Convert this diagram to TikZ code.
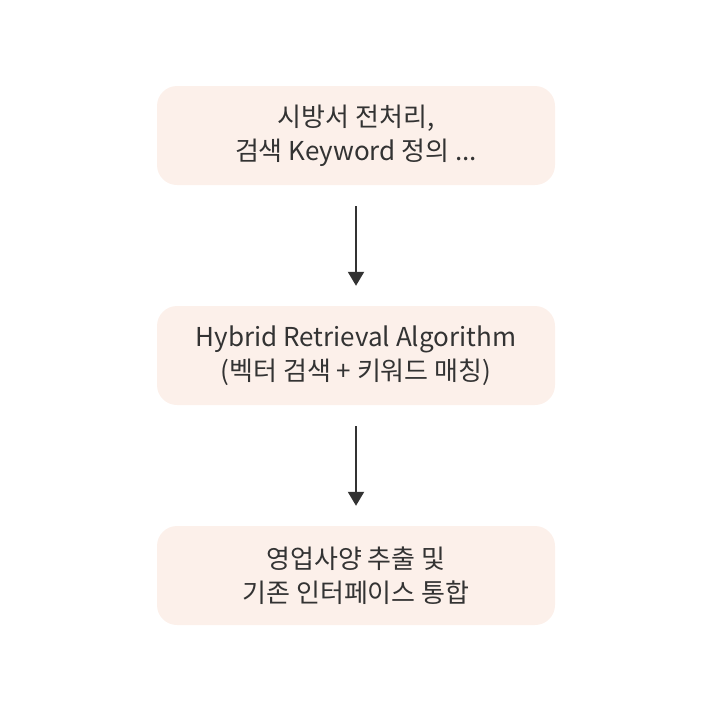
\documentclass[tikz,border=0pt]{standalone}
\usepackage{fontspec}
\setmainfont{Noto Sans CJK KR}
\usetikzlibrary{arrows.meta}
\definecolor{boxfill}{HTML}{FCF0EA}
\definecolor{ink}{HTML}{333333}
\tikzset{
  stepbox/.style={fill=boxfill, draw=none, rounded corners=20pt, minimum width=398pt, minimum height=99pt, align=center, text=ink, font=\fontsize{26}{34}\selectfont, inner sep=0pt},
  flow/.style={draw=ink, line width=2pt, -{Triangle[length=14pt,width=16pt]}}
}
\begin{document}
\begin{tikzpicture}[x=1pt,y=-1pt]
\useasboundingbox (0,0) rectangle (710,710);
\node[stepbox] (a) at (356,135.5) {시방서 전처리,\\검색 Keyword 정의 ...};
\node[stepbox] (b) at (356,355.5) {Hybrid Retrieval Algorithm\\(벡터 검색 + 키워드 매칭)};
\node[stepbox] (c) at (356,575.5) {영업사양 추출 및\\기존 인터페이스 통합};
\draw[flow] ([yshift=-21pt]a.south) -- ([yshift=20pt]b.north);
\draw[flow] ([yshift=-21pt]b.south) -- ([yshift=20pt]c.north);
\end{tikzpicture}
\end{document}
